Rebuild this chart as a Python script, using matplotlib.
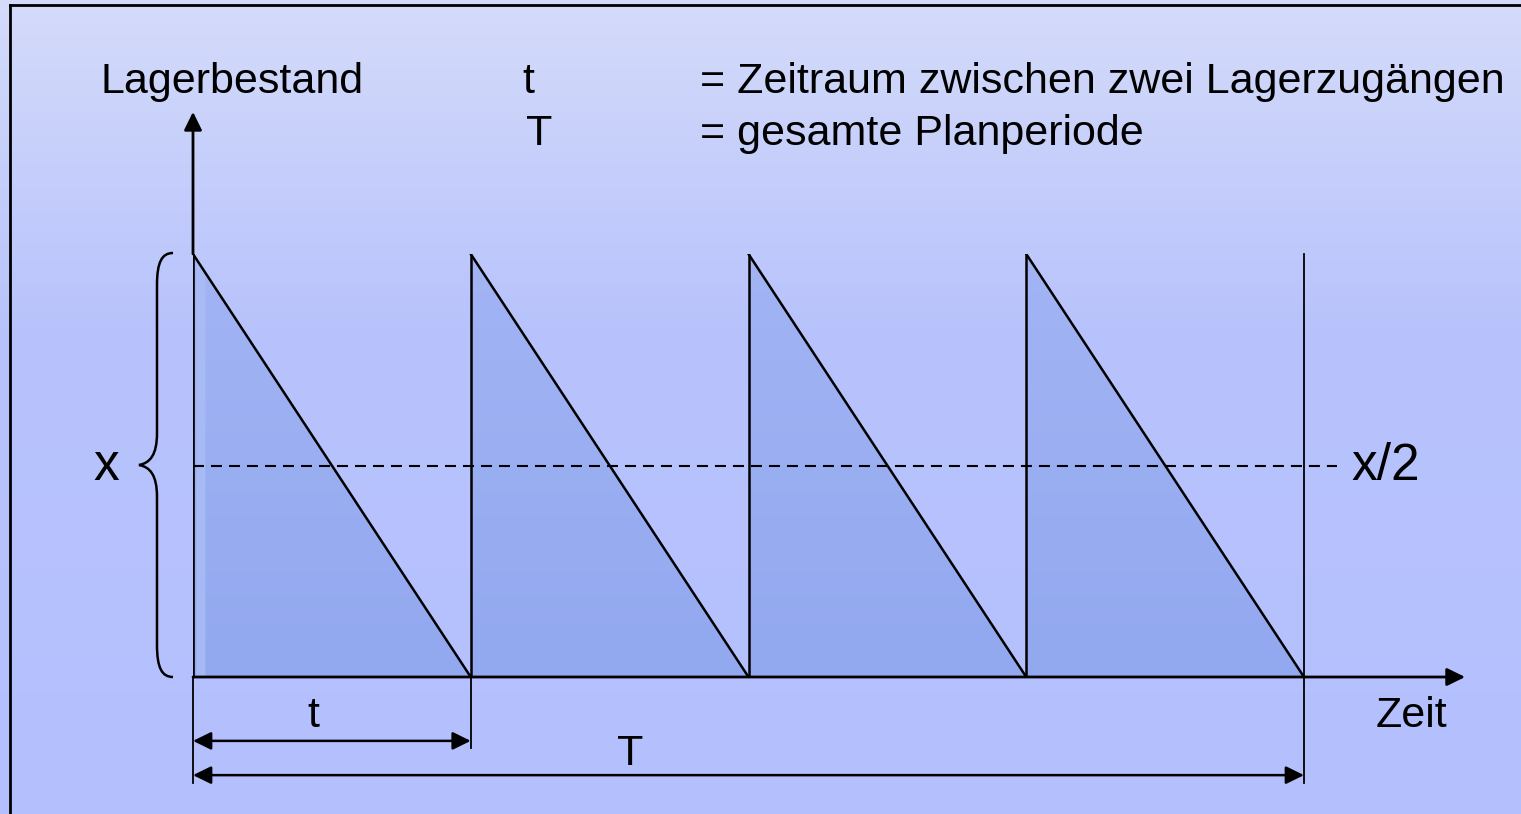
import numpy as np
import matplotlib.pyplot as plt
from matplotlib.patches import Polygon, PathPatch
from matplotlib.path import Path

plt.rcParams['font.family'] = ['Liberation Sans', 'DejaVu Sans']

# Lagermodell: gleich lange Zyklen, Bestand faellt linear von x auf 0
cycle_starts = [0, 1, 2, 3]
cycle_len = 1
x_max = 1.0
x_half = x_max / 2
T_end = cycle_starts[-1] + cycle_len

top_labels = ["t", "T"]
top_texts = ["= Zeitraum zwischen zwei Lagerzugängen", "= gesamte Planperiode"]

W, H = 1521, 814
fig = plt.figure(figsize=(W / 100, H / 100), dpi=100)

# background with vertical gradient, pixel coordinates
bg = fig.add_axes([0, 0, 1, 1])
bg.set_xlim(0, W)
bg.set_ylim(H, 0)
bg.axis('off')
yy = np.linspace(0, 1, 200)
c_top = np.array([212, 219, 250]) / 255
c_mid = np.array([184, 195, 252]) / 255
c_bot = np.array([180, 192, 255]) / 255
cols = np.where(yy[:, None] < 0.4,
                c_top + (c_mid - c_top) * (yy[:, None] / 0.4),
                c_mid + (c_bot - c_mid) * ((yy[:, None] - 0.4) / 0.6))
bg.imshow(cols[:, None, :], extent=[0, W, H, 0], aspect='auto', zorder=0)
bg.plot([10, W], [5, 5], color='black', lw=2, zorder=1)
bg.plot([10, 10], [5, H], color='black', lw=2, zorder=1)

# curly brace for x
verts = [(173, 253), (162, 253), (157, 262), (157, 285),
         (157, 433),
         (157, 455), (150, 463), (139, 465),
         (150, 467), (157, 475), (157, 497),
         (157, 645),
         (157, 668), (162, 677), (173, 677)]
codes = [Path.MOVETO, Path.CURVE4, Path.CURVE4, Path.CURVE4,
         Path.LINETO,
         Path.CURVE4, Path.CURVE4, Path.CURVE4,
         Path.CURVE4, Path.CURVE4, Path.CURVE4,
         Path.LINETO,
         Path.CURVE4, Path.CURVE4, Path.CURVE4]
bg.add_patch(PathPatch(Path(verts, codes), fill=False, lw=1.8, ec='black', zorder=2))

fs = 31
bg.text(100, 93, "Lagerbestand", fontsize=fs, va='baseline', ha='left')
for i, (lab, txt) in enumerate(zip(top_labels, top_texts)):
    base = 93 + i * 52
    bg.text(522 + i * 4, base, lab, fontsize=fs, va='baseline', ha='left')
    bg.text(700, base, txt, fontsize=fs, va='baseline', ha='left')
bg.text(93, 480, "x", fontsize=37, va='baseline', ha='left')
bg.text(1351, 480, "x/2", fontsize=37, va='baseline', ha='left')
bg.text(1376, 727, "Zeit", fontsize=fs, va='baseline', ha='left')

# main diagram in data coordinates
ax = fig.add_axes([193 / W, (H - 677) / H, 1111 / W, 423 / H])
ax.set_xlim(0, T_end)
ax.set_ylim(0, x_max)
ax.axis('off')
ax.patch.set_alpha(0)

tri_grad = np.linspace(0, 1, 100)[:, None]
c1 = np.array([162, 180, 244]) / 255
c2 = np.array([146, 168, 239]) / 255
tri_cols = c1 + (c2 - c1) * tri_grad
for s in cycle_starts:
    tri = Polygon([(s, 0), (s, x_max), (s + cycle_len, 0)], closed=True,
                  fc='none', ec='none', transform=ax.transData)
    ax.add_patch(tri)
    im = ax.imshow(tri_cols[:, None, :], extent=[s, s + cycle_len, 0, x_max],
                   aspect='auto', zorder=1)
    im.set_clip_path(tri)
    lw_v = 2.6 if s == cycle_starts[0] else 1.8
    ax.plot([s, s], [0, x_max], color='black', lw=lw_v, zorder=3,
            solid_capstyle='butt')
    ax.plot([s, s + cycle_len], [x_max, 0], color='black', lw=1.8, zorder=3)

# lighter strip at left edge of first triangle
strip = Polygon([(0.012, 0), (0.012, x_max * 0.985), (0.045, x_max * 0.95), (0.045, 0)],
                closed=True, fc=(172 / 255, 190 / 255, 246 / 255), ec='none',
                alpha=0.8, zorder=2)
ax.add_patch(strip)

ax.set_aspect('auto')
ax.set_xlim(0, T_end)
ax.set_ylim(0, x_max)

# axes arrows
arrow = dict(arrowstyle='-|>,head_length=0.55,head_width=0.27', color='black',
             lw=2.0, shrinkA=0, shrinkB=0, mutation_scale=20)
ax.annotate('', xy=(4.58, 0), xytext=(0, 0), arrowprops=arrow,
            annotation_clip=False, zorder=4)
ax.annotate('', xy=(0, 1.336), xytext=(0, x_max), arrowprops=arrow,
            annotation_clip=False, zorder=4)

# x/2 dashed line
lw_d = 1.5
ax.plot([0, 4.12], [x_half, x_half], color='black', lw=lw_d,
        dashes=(11 / 1.389 / lw_d, 7 / 1.389 / lw_d), zorder=4, clip_on=False)

# right boundary and dimension lines
ax.plot([T_end, T_end], [-0.25, x_max], color='black', lw=1.3, zorder=4, clip_on=False)
ax.plot([0, 0], [-0.25, 0], color='black', lw=1.3, zorder=4, clip_on=False)
ax.plot([cycle_len, cycle_len], [-0.168, 0], color='black', lw=1.3, zorder=4, clip_on=False)

dim = dict(arrowstyle='<|-|>,head_length=0.55,head_width=0.27', color='black',
           lw=1.8, shrinkA=0, shrinkB=0, mutation_scale=20)
ax.annotate('', xy=(cycle_len, -0.151), xytext=(0, -0.151), arrowprops=dim,
            annotation_clip=False)
ax.annotate('', xy=(T_end, -0.232), xytext=(0, -0.232), arrowprops=dim,
            annotation_clip=False)

bg.text(313, 727, "t", fontsize=fs, va='baseline', ha='center')
bg.text(630, 765, "T", fontsize=fs, va='baseline', ha='center')

fig.savefig("out.png", dpi=100)
